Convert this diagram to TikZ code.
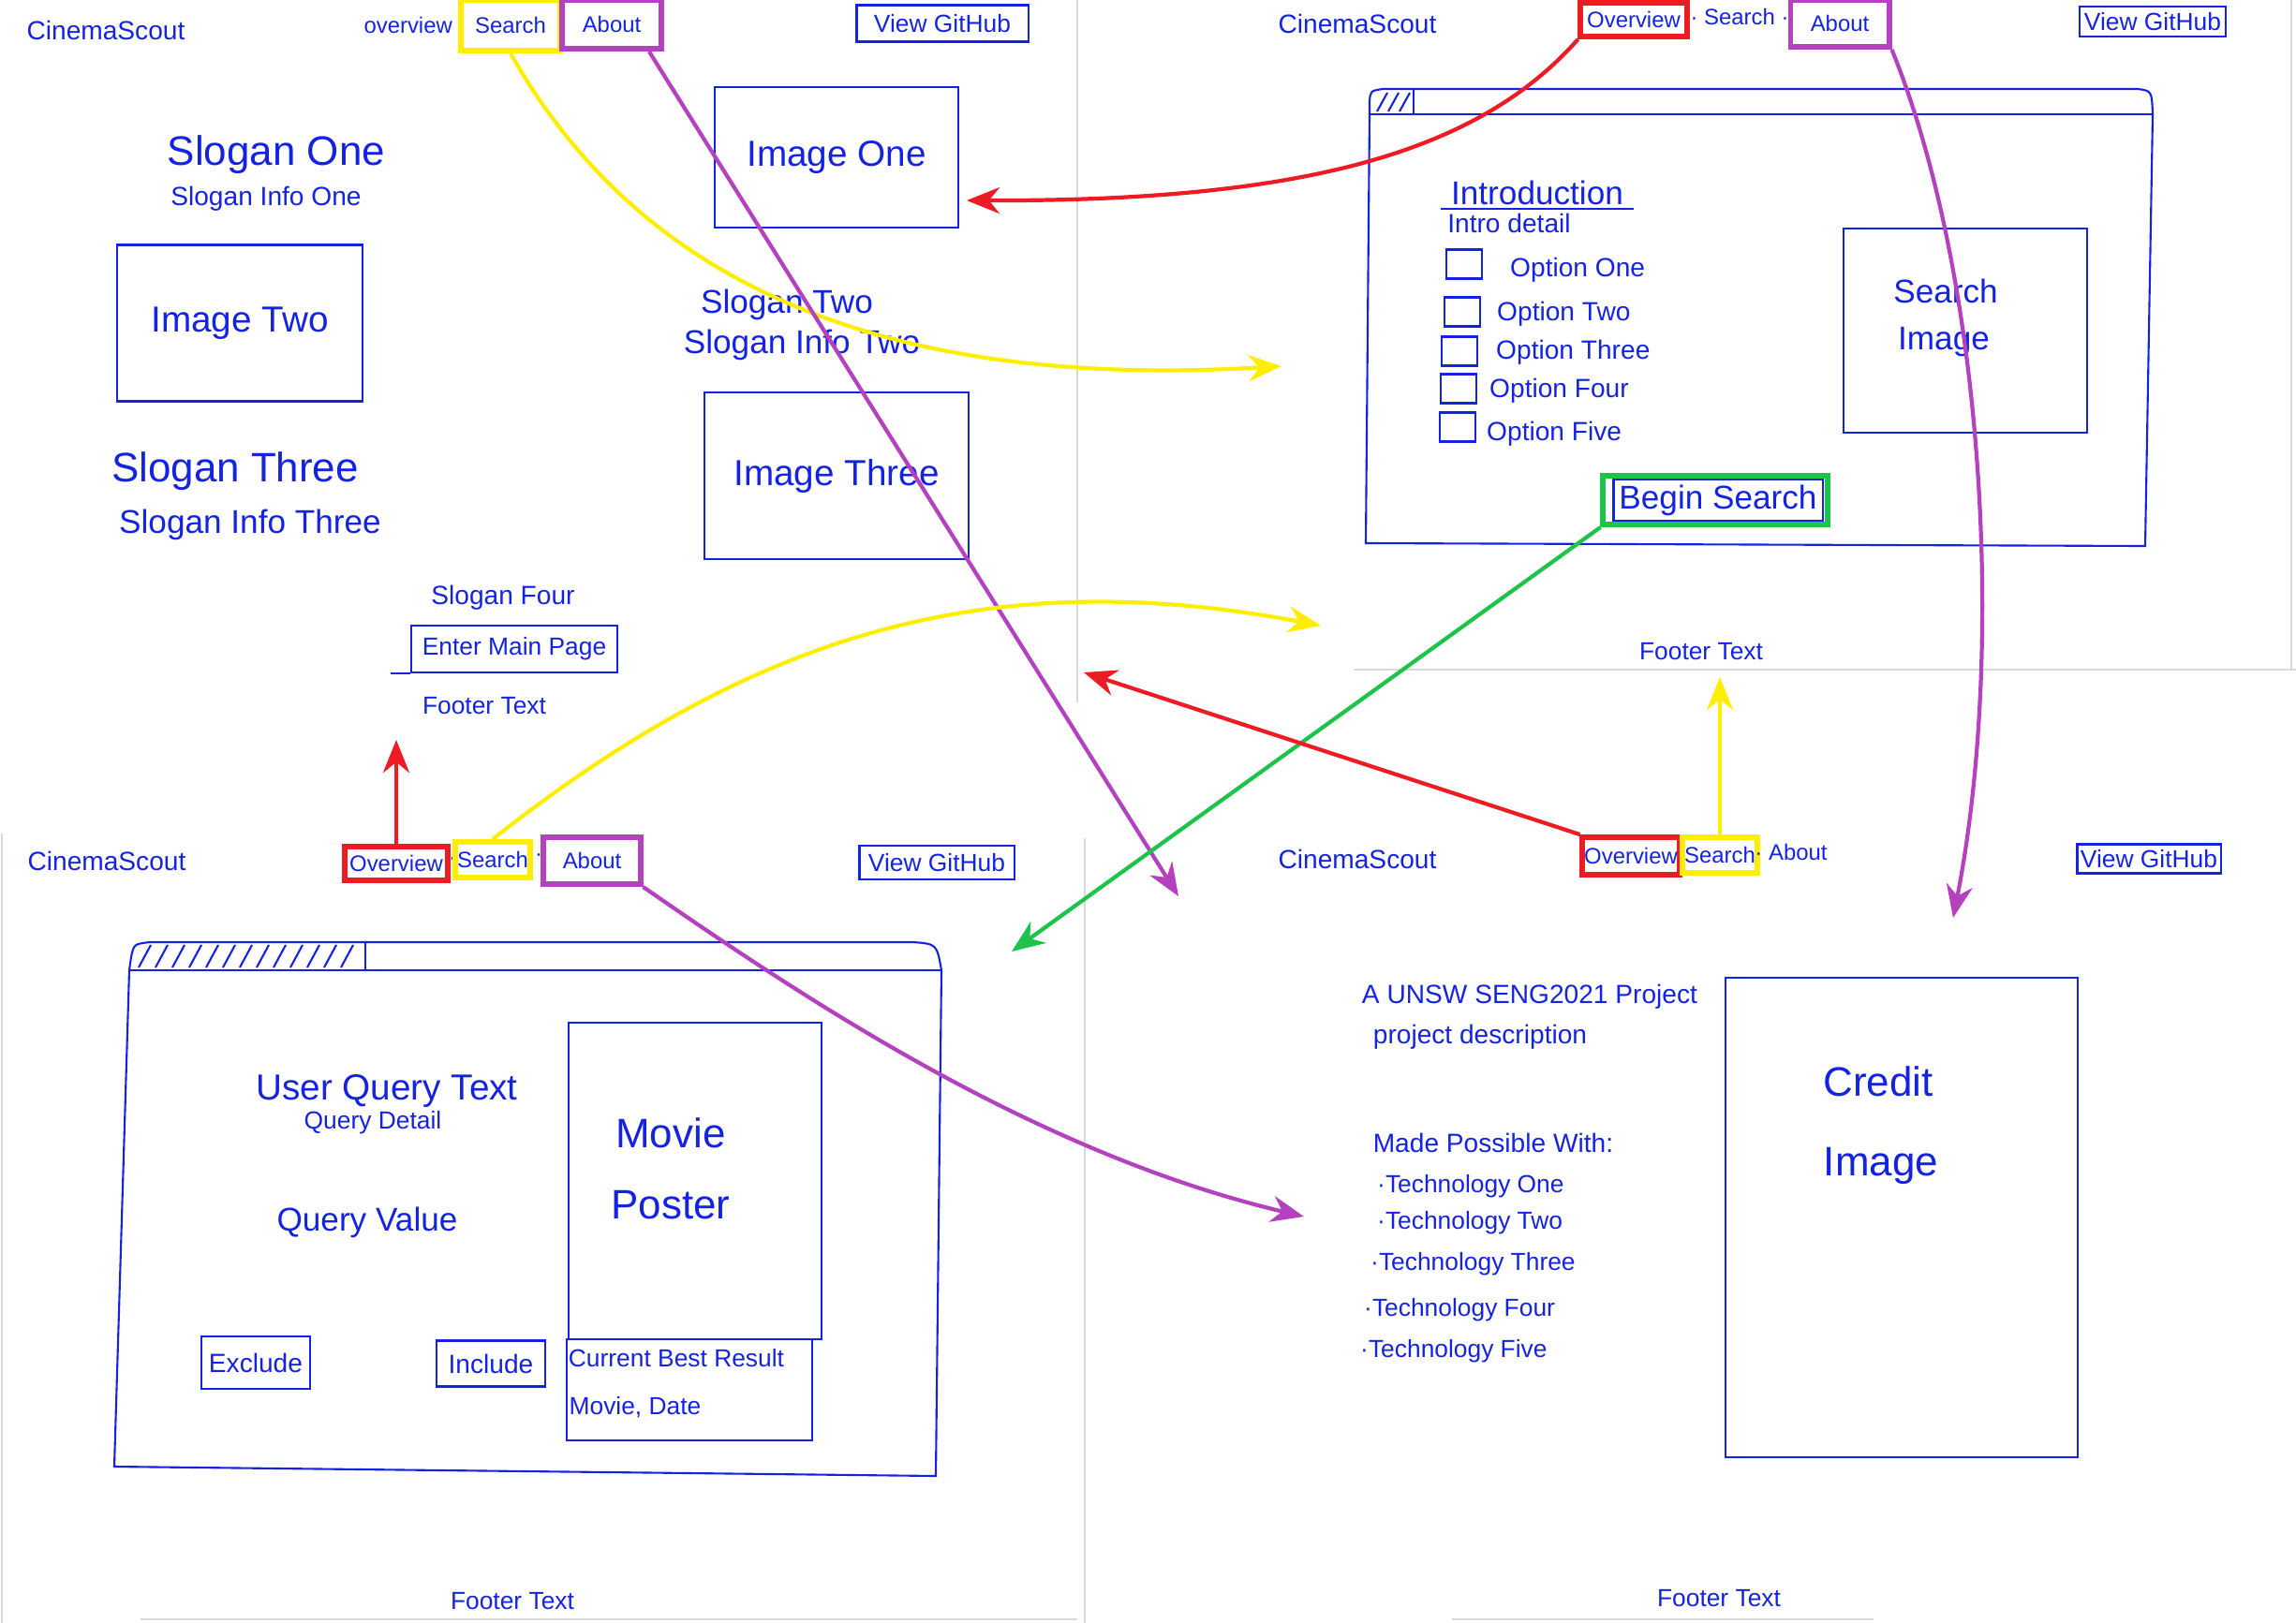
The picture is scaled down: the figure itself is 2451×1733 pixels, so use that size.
\documentclass[tikz,border=0pt]{standalone}
\usepackage{fontspec}
\setmainfont{Liberation Sans}
\usepackage{xcolor}
\usetikzlibrary{arrows.meta}

\definecolor{inkblue}{RGB}{20,35,225}
\definecolor{hired}{RGB}{237,28,36}
\definecolor{hiyellow}{RGB}{255,238,0}
\definecolor{hipurple}{RGB}{180,65,190}
\definecolor{higreen}{RGB}{30,195,75}

\begin{document}
\begin{tikzpicture}[x=0.01cm, y=-0.01cm,
		ink/.style={draw=inkblue, line width=0.6pt},
		hand/.style={text=inkblue, inner sep=1pt},
		menutext/.style={hand, font=\fontsize{6.8}{8}\selectfont},
		navtext/.style={hand, font=\fontsize{7.5}{9}\selectfont},
		smalltext/.style={hand, font=\fontsize{8}{10}\selectfont},
		midtext/.style={hand, font=\fontsize{10}{12}\selectfont},
		imgtext/.style={hand, font=\fontsize{11}{13}\selectfont},
		bigtext/.style={hand, font=\fontsize{12.5}{15}\selectfont},
		sketchbox/.style={ink, rectangle},
		hilite/.style={draw=#1, line width=1.7pt, rectangle, inner sep=0.5pt},
		link/.style={draw=#1, line width=1.2pt, -{Stealth[length=10pt,width=8pt]}},
		panelline/.style={draw=gray!30, line width=0.4pt}]
	\useasboundingbox (0,0) rectangle (2451,1733);
	\draw[panelline] (1150,0) -- (1150,750);
	\draw[panelline] (1445,715) -- (2451,715);
	\draw[panelline] (2446,0) -- (2446,715);
	\draw[panelline] (1158,895) -- (1158,1733);
	\draw[panelline] (2,890) -- (2,1733);
	\draw[panelline] (150,1729) -- (1150,1729);
	\draw[panelline] (1550,1729) -- (2000,1729);

	\node[smalltext] (brandA) at (113,32) {CinemaScout};
	\node[menutext] (overA) at (443,27) {overview ·};
	\node[menutext, hilite=hiyellow, minimum width=1.05cm, minimum height=0.54cm] (searchA) at (545,27) {Search};
	\node[menutext, hilite=hipurple, minimum width=1.06cm, minimum height=0.52cm] (aboutA) at (653,26) {About};
	\node[navtext, sketchbox, minimum width=1.83cm, minimum height=0.39cm] (gitA) at (1006,25) {View GitHub};
	\node[imgtext, sketchbox, minimum width=2.60cm, minimum height=1.50cm] (imgOne) at (893,168) {Image One};
	\node[bigtext] (sloganOne) at (295,165) {Slogan One};
	\node[smalltext] (infoOne) at (284,212) {Slogan Info One};
	\node[imgtext, sketchbox, minimum width=2.61cm, minimum height=1.67cm] (imgTwo) at (256,345) {Image Two};
	\node[midtext] (sloganTwo) at (840,325) {Slogan Two};
	\node[midtext] (infoTwo) at (856,368) {Slogan Info Two};
	\node[imgtext, sketchbox, minimum width=2.82cm, minimum height=1.78cm] (imgThree) at (893,508) {Image Three};
	\node[bigtext] (sloganThree) at (251,503) {Slogan Three};
	\node[midtext] (infoThree) at (267,560) {Slogan Info Three};
	\node[smalltext] (sloganFour) at (537,638) {Slogan Four};
	\node[navtext, sketchbox, minimum width=2.20cm, minimum height=0.50cm] (enterA) at (549,693) {Enter Main Page};
	\draw[ink] (enterA.south west) -- ++(-21,0);
	\node[navtext] (footA) at (517,754) {Footer Text};

	\node[smalltext] (brandB) at (1449,25) {CinemaScout};
	\node[menutext, hilite=hired, minimum width=1.13cm, minimum height=0.36cm] (overB) at (1744,21) {Overview};
	\node[menutext] (searchB) at (1857,18) {· Search ·};
	\node[menutext, hilite=hipurple, minimum width=1.05cm, minimum height=0.50cm] (aboutB) at (1964,25) {About};
	\node[navtext, sketchbox, minimum width=1.56cm, minimum height=0.32cm] (gitB) at (2298,23) {View GitHub};
	\draw[ink] (1462,122) -- (2298,122);
	\draw[ink] (1462,122) -- (1462,108) .. controls (1463,97) .. (1476,95) -- (2282,95) .. controls (2297,97) .. (2298,122) -- (2290,583) -- (1458,580) -- (1462,122);
	\draw[ink] (1509,95) -- (1509,122);
	\foreach \hx in {1470,1482,1494}
		\draw[ink] (\hx,119) -- (\hx+11,99);
	\node[midtext] (intro) at (1641,206) {Introduction};
	\draw[ink] ([xshift=-2pt]intro.south west) -- ([xshift=2pt]intro.south east);
	\node[smalltext] (introDetail) at (1611,238) {Intro detail};
	\foreach \cx/\cy/\tx/\ty/\word [count=\i] in {1563/282/1608/288/One, 1561/333/1594/335/Two, 1558/375/1593/376/Three, 1557/415/1586/417/Four, 1556/456/1583/463/Five}
	{
		\node[sketchbox, minimum width=0.38cm, minimum height=0.31cm] (check\i) at (\cx,\cy) {};
		\node[smalltext, anchor=west] (option\i) at (\tx,\ty) {Option \word};
	}
	\node[sketchbox, minimum width=2.60cm, minimum height=2.18cm] (searchImg) at (2098,353) {};
	\node[midtext] (searchWord) at (2077,311) {Search};
	\node[midtext] (imageWord) at (2075,365) {Image};
	\node[midtext, sketchbox, minimum width=2.23cm, minimum height=0.45cm] (beginBtn) at (1834,534) {Begin Search};
	\node[hilite=higreen, minimum width=2.39cm, minimum height=0.52cm] (beginHi) at (1831,534) {};
	\node[navtext] (footB) at (1816,696) {Footer Text};

	\node[smalltext] (brandC) at (114,919) {CinemaScout};
	\node[menutext, hilite=hired, minimum width=1.10cm, minimum height=0.36cm] (overC) at (423,922) {Overview};
	\node[menutext] (dotC) at (483,920) {·};
	\node[menutext, hilite=hiyellow, minimum width=0.77cm, minimum height=0.38cm] (searchC) at (526,918) {Search};
	\node[menutext] (dotD) at (575,916) {·};
	\node[menutext, hilite=hipurple, minimum width=1.03cm, minimum height=0.50cm] (aboutC) at (632,919) {About};
	\node[navtext, sketchbox, minimum width=1.65cm, minimum height=0.36cm] (gitC) at (1000,921) {View GitHub};
	\draw[ink] (138,1036) -- (1005,1036);
	\draw[ink] (138,1036) -- (140,1022) .. controls (143,1008) .. (160,1006) -- (975,1006) .. controls (1000,1008) .. (1005,1036) -- (999,1576) -- (122,1566) -- (138,1036);
	\draw[ink] (390,1006) -- (390,1036);
	\foreach \hx in {148,166,...,376}
		\draw[ink] (\hx,1033) -- (\hx+13,1009);
	\node[imgtext] (userQuery) at (413,1165) {User Query Text};
	\node[navtext] (queryDetail) at (398,1199) {Query Detail};
	\node[midtext] (queryValue) at (392,1305) {Query Value};
	\node[sketchbox, minimum width=2.70cm, minimum height=3.38cm] (poster) at (742,1261) {};
	\node[bigtext] (movieWord) at (716,1210) {Movie};
	\node[bigtext] (posterWord) at (716,1287) {Poster};
	\node[sketchbox, minimum width=2.62cm, minimum height=1.08cm] (bestBox) at (736,1484) {};
	\node[navtext] (bestLabel) at (722,1450) {Current Best Result};
	\node[navtext] (movieDate) at (678,1503) {Movie, Date};
	\node[smalltext, sketchbox, minimum width=1.16cm, minimum height=0.56cm] (excludeBtn) at (273,1455) {Exclude};
	\node[smalltext, sketchbox, minimum width=1.16cm, minimum height=0.49cm] (includeBtn) at (524,1456) {Include};
	\node[navtext] (footC) at (547,1710) {Footer Text};

	\node[smalltext] (brandD) at (1449,917) {CinemaScout};
	\node[menutext, hilite=hired, minimum width=1.02cm, minimum height=0.40cm] (overD) at (1741,914) {Overview};
	\node[menutext, hilite=hiyellow, minimum width=0.77cm, minimum height=0.38cm] (searchD) at (1836,913) {Search};
	\node[menutext] (aboutD) at (1912,910) {· About};
	\node[navtext, sketchbox, minimum width=1.38cm, minimum height=0.31cm] (gitD) at (2294,917) {View GitHub};
	\node[smalltext] (unsw) at (1633,1064) {A UNSW SENG2021 Project};
	\node[smalltext] (projDesc) at (1580,1107) {project description};
	\node[smalltext] (madeWith) at (1594,1220) {Made Possible With:};
	\foreach \tx/\ty/\word [count=\i] in {1466/1267/One, 1466/1306/Two, 1459/1350/Three, 1452/1399/Four, 1448/1443/Five}
		\node[navtext, anchor=west] (tech\i) at (\tx,\ty) {·Technology \word};
	\node[sketchbox, minimum width=3.76cm, minimum height=5.11cm] (creditImg) at (2030,1300) {};
	\node[bigtext] (creditWord) at (2005,1155) {Credit};
	\node[bigtext] (creditImage) at (2008,1245) {Image};
	\node[navtext] (footD) at (1835,1707) {Footer Text};

	\coordinate (toSearch) at (1368,391);
	\coordinate (toAbout) at (1258,957);
	\coordinate (toOverview) at (1032,214);
	\coordinate (toAboutB) at (2085,980);
	\coordinate (toResults) at (1080,1016);
	\coordinate (toSearchTop) at (1410,668);
	\coordinate (toFootA) at (423,790);
	\coordinate (toTech) at (1392,1299);
	\coordinate (toMid) at (1157,718);
	\coordinate (toFootB) at (1836,723);

	\draw[link=hiyellow] (searchA.south) .. controls (660,260) and (880,420) .. (toSearch);
	\draw[link=hipurple] (aboutA.-36) -- (toAbout);
	\draw[link=hired] (overB.south west) .. controls (1580,160) and (1400,215) .. (toOverview);
	\draw[link=hipurple] (aboutB.south east) .. controls (2120,300) and (2140,700) .. (toAboutB);
	\draw[link=higreen] (beginHi.south west) -- (toResults);
	\draw[link=hiyellow] (searchC.north) .. controls (800,680) and (1050,600) .. (toSearchTop);
	\draw[link=hired] (overC.north) -- (toFootA);
	\draw[link=hipurple] (aboutC.south east) .. controls (850,1060) and (1100,1230) .. (toTech);
	\draw[link=hired] (overD.north west) -- (toMid);
	\draw[link=hiyellow] (searchD.north) -- (toFootB);
\end{tikzpicture}
\end{document}
